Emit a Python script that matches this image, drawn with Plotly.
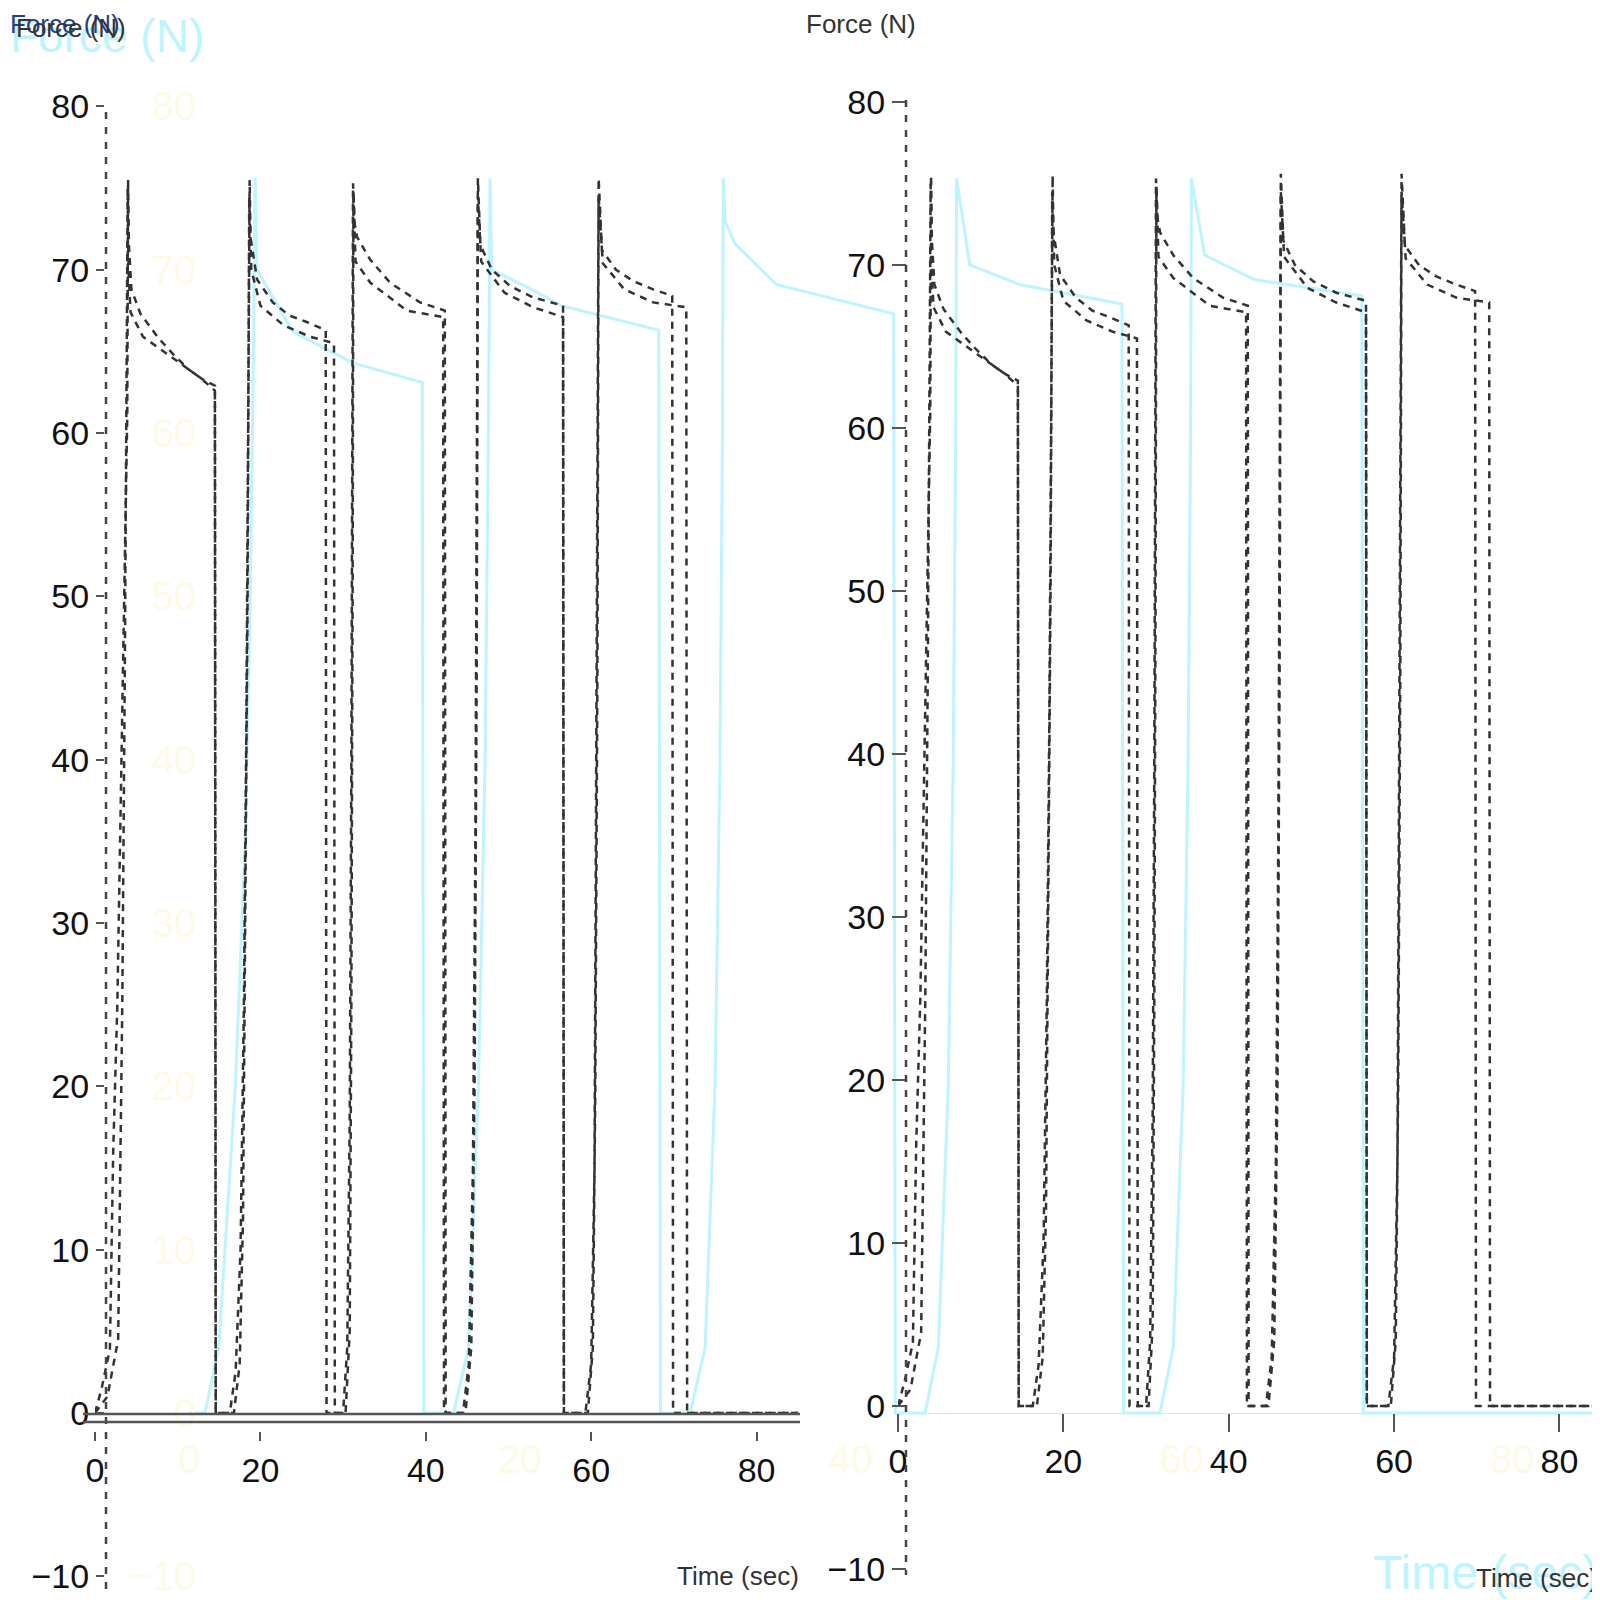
import plotly.graph_objects as go

# ---------------- data : Force (N) vs Time (sec) ----------------
# dashed series A
t_a = [0.0, 0.8, 1.8, 2.2, 2.7, 3.0, 3.4, 3.9, 4.0, 4.1, 4.4, 5.5, 7.7, 9.5, 11.3, 13.0, 14.5, 14.6,
       16.3, 17.0, 17.6, 18.0, 18.3, 18.5, 18.7, 18.8, 19.6, 21.5, 23.5, 25.6, 27.9, 28.0,
       30.0, 30.5, 30.8, 31.0, 31.1, 31.2, 31.4, 31.7, 33.3, 35.7, 39.3, 42.3, 42.4,
       44.5, 45.2, 45.7, 46.0, 46.2, 46.3, 46.6, 48.0, 50.2, 53.0, 56.6, 56.7,
       59.3, 60.0, 60.4, 60.6, 60.8, 60.9, 61.3, 63.0, 65.1, 67.5, 69.8, 69.9, 85.0]
f_a = [0, 1.5, 3.9, 16, 25, 34, 46, 61, 75.5, 71.5, 68.8, 67.3, 65.8, 64.8, 63.9, 63.3, 62.9, 0,
       0, 2.5, 10, 25, 42, 58, 75.5, 72.0, 69.4, 68.0, 67.2, 66.8, 66.3, 0,
       0, 4, 18, 40, 58, 75.3, 72.8, 72.0, 70.6, 69.2, 68.0, 67.5, 0,
       0, 3, 15, 35, 58, 75.6, 71.5, 70.0, 69.0, 68.3, 67.8, 0,
       0, 3, 15, 38, 60, 75.6, 71.2, 70.0, 69.3, 68.8, 68.4, 0, 0]

# dashed series B (the second, slightly lower dashed curve)
t_b = [0.0, 1.5, 2.8, 3.3, 3.6, 3.8, 3.95, 4.05, 4.3, 5.8, 9.1, 12.7, 14.5, 14.6,
       16.8, 17.5, 17.9, 18.2, 18.45, 18.65, 18.9, 20.0, 22.8, 26.0, 28.9, 29.0,
       30.3, 30.8, 31.0, 31.15, 31.25, 31.5, 33.3, 37.7, 42.1, 42.2,
       44.8, 45.5, 45.9, 46.15, 46.3, 46.7, 49.5, 53.0, 56.6, 56.7,
       59.6, 60.2, 60.5, 60.75, 60.9, 61.4, 64.0, 67.5, 71.5, 71.6, 85.0]
f_b = [0, 1.0, 4.5, 25, 45, 62, 75.0, 70.0, 67.4, 65.9, 64.7, 63.4, 62.6, 0,
       0, 3, 12, 30, 50, 74.5, 70.0, 67.8, 66.6, 65.9, 65.5, 0,
       0, 5, 25, 50, 74.8, 70.5, 69.2, 67.5, 67.1, 0,
       0, 4, 20, 45, 74.5, 70.5, 68.6, 67.7, 67.1, 0,
       0, 4, 20, 45, 74.5, 70.4, 68.8, 68.0, 67.7, 0, 0]

# solid light-cyan series (stretched rendering)
t_c = [0.0, 0.97, 1.8, 2.8, 3.4, 3.7, 3.9, 4.0, 4.1, 6.3, 9.9, 14.1, 14.2,
       16.0, 16.9, 17.5, 17.9, 18.1, 18.2, 18.3, 20.7, 22.5, 28.4, 28.5,
       30.3, 31.2, 31.8, 32.1, 32.25, 32.3, 32.4, 33.0, 35.5, 42.6, 42.7,
       44.5, 45.3, 45.9, 46.2, 46.35, 46.4, 47.2, 50.2, 56.4, 56.5,
       58.7, 59.5, 60.1, 60.4, 60.55, 60.6, 61.4, 64.4, 70.9, 71.0, 86.0]
f_c = [0, 0, 4, 20, 35, 50, 65, 75.6, 70.0, 66.2, 64.3, 63.1, 0,
       0, 4, 20, 40, 60, 75.6, 70.0, 68.8, 67.8, 66.3, 0,
       0, 4, 20, 40, 60, 75.6, 73.0, 71.6, 69.1, 67.3, 0,
       0, 4, 20, 40, 60, 75.6, 70.3, 69.1, 67.9, 0,
       0, 4, 20, 40, 60, 75.6, 70.9, 69.4, 68.4, 0, 0]

x_ticks = [0, 20, 40, 60, 80]
y_ticks = [-10, 0, 10, 20, 30, 40, 50, 60, 70, 80]

y_title = "Force (N)"
x_title = "Time (sec)"

# ---------------- styling ----------------
W = H = 1600
OFF = 8          # the page body margin shifts the figure by 8 px
CYAN = "#bdf4ff"
FAINT = "#fdfae6"
INK = "#333333"
NAVY = "#1f3f8f"
SANS = "Liberation Sans, Arial, sans-serif"


def px(x):
    return (x - OFF) / W


def py(y):
    return 1 - (y - OFF) / H


fig = go.Figure()

fig.add_trace(go.Scatter(x=t_c, y=f_c, mode="lines", xaxis="x", yaxis="y",
                         line=dict(color=CYAN, width=3), showlegend=False,
                         hoverinfo="skip"))
for xa, ya in (("x2", "y2"), ("x3", "y3")):
    fig.add_trace(go.Scatter(x=t_b, y=f_b, mode="lines", xaxis=xa, yaxis=ya,
                             line=dict(color=INK, width=2.5, dash="7px,6px"),
                             showlegend=False, hoverinfo="skip"))
    fig.add_trace(go.Scatter(x=t_a, y=f_a, mode="lines", xaxis=xa, yaxis=ya,
                             line=dict(color=INK, width=2.5, dash="7px,6px"),
                             showlegend=False, hoverinfo="skip"))

ink_font = dict(family=SANS, size=34, color="#111111")
faint_font = dict(family=SANS, size=40, color=FAINT)
common = dict(showgrid=False, zeroline=False, anchor="free", automargin=False)

fig.update_layout(
    width=W, height=H, autosize=False,
    margin=dict(l=0, r=0, t=0, b=0, pad=0, autoexpand=False),
    paper_bgcolor="white", plot_bgcolor="rgba(0,0,0,0)",
    showlegend=False,
    # stretched light layer
    xaxis=dict(domain=[px(189), px(1600)], range=[0, 85.3], position=py(1432),
               tickvals=x_ticks, ticks="", showline=False, tickfont=faint_font,
               **common),
    yaxis=dict(domain=[py(1595), py(95)], range=[-11.15, 80.7], position=px(196),
               tickvals=y_ticks, ticks="", showline=False, tickfont=faint_font,
               **common),
    # left panel
    xaxis2=dict(domain=[px(95), px(800)], range=[0, 85.25], position=py(1431),
                tickvals=x_ticks, ticks="outside", ticklen=9, tickwidth=2,
                tickcolor="#555555", showline=False, tickfont=ink_font, **common),
    yaxis2=dict(domain=[py(1595), py(95)], range=[-11.15, 80.7], position=px(104),
                tickvals=y_ticks, ticks="outside", ticklen=8, tickwidth=2,
                tickcolor="#555555", showline=False, tickfont=ink_font, **common),
    # right panel
    xaxis3=dict(domain=[px(898), px(1600)], range=[0, 84.9], position=py(1413),
                tickvals=x_ticks, ticks="outside", ticklen=18, tickwidth=2,
                tickcolor="#555555", showline=True, linecolor="#e4e4e4",
                linewidth=1, tickfont=ink_font, **common),
    yaxis3=dict(domain=[py(1595), py(95)], range=[-11.6, 80.43], position=px(906),
                tickvals=y_ticks, ticks="outside", ticklen=14, tickwidth=2,
                tickcolor="#555555", showline=False, tickfont=ink_font, **common),
)

shapes = [
    # dashed vertical axis lines
    dict(type="line", xref="paper", yref="paper", x0=px(106), x1=px(106),
         y0=py(112), y1=py(1590), line=dict(color="#444444", width=2.5, dash="7px,8px")),
    dict(type="line", xref="paper", yref="paper", x0=px(906), x1=px(906),
         y0=py(100), y1=py(1575), line=dict(color="#444444", width=2.5, dash="7px,8px")),
    # double baseline of the left panel
    dict(type="line", xref="paper", yref="paper", x0=px(83), x1=px(800),
         y0=py(1414), y1=py(1414), line=dict(color="#555555", width=2.5)),
    dict(type="line", xref="paper", yref="paper", x0=px(83), x1=px(800),
         y0=py(1422), y1=py(1422), line=dict(color="#555555", width=2.5)),
]
fig.update_layout(shapes=shapes)

ann = [
    # big light-cyan titles
    dict(text=y_title, x=px(8), y=py(8), xanchor="left", yanchor="top",
         font=dict(family=SANS, size=46, color=CYAN)),
    dict(text=x_title, x=px(1600), y=py(1572), xanchor="right", yanchor="middle",
         font=dict(family=SANS, size=48, color=CYAN)),
    # navy & dark condensed titles
    dict(text=y_title, x=px(8), y=py(24), xanchor="left", yanchor="middle",
         font=dict(family=SANS, size=26, color=NAVY)),
    dict(text=y_title, x=px(14), y=py(28), xanchor="left", yanchor="middle",
         font=dict(family=SANS, size=26, color=INK)),
    dict(text=y_title, x=px(804), y=py(24), xanchor="left", yanchor="middle",
         font=dict(family=SANS, size=26, color=INK)),
    dict(text=x_title, x=px(801), y=py(1576), xanchor="right", yanchor="middle",
         font=dict(family=SANS, size=26, color=INK)),
    dict(text=x_title, x=px(1600), y=py(1578), xanchor="right", yanchor="middle",
         font=dict(family=SANS, size=26, color=INK)),
]
for a in ann:
    a.update(xref="paper", yref="paper", showarrow=False)
fig.update_layout(annotations=ann)

fig.write_html("out.html")
